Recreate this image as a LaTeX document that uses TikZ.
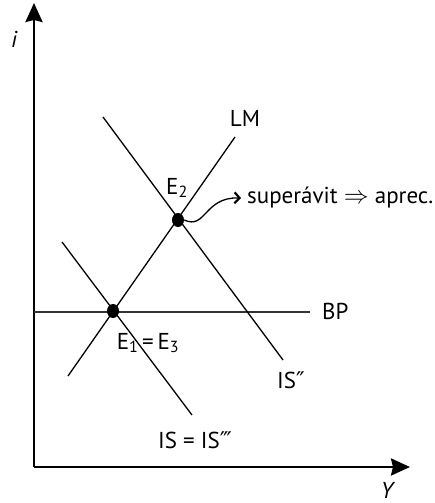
\documentclass[tikz,border=0pt]{standalone}
\usepackage{fontspec}
\setmainfont{PT Sans}
\newfontfamily\dv{DejaVu Sans}
\usetikzlibrary{arrows.meta,shapes.geometric}
\tikzset{
  axis/.style={line width=2.6pt, -{Stealth[length=19pt,width=17pt,inset=2pt]}},
  curve/.style={line width=1.3pt},
  bpline/.style={line width=1.5pt, black!80},
  lab/.style={inner sep=0pt, font=\fontsize{23}{27}\selectfont},
  itlab/.style={inner sep=0pt, font=\fontsize{23}{27}\selectfont\itshape},
  eqdot/.style={ellipse, fill=black, minimum width=12pt, minimum height=14pt, inner sep=0pt},
}
\begin{document}
\begin{tikzpicture}[x=1pt,y=-1pt]
\useasboundingbox (0,0) rectangle (435,503);
% axes
\coordinate (O) at (34,467);
\coordinate (ytop) at (34,3);
\coordinate (xend) at (410,467);
\draw[axis] (O) -- (ytop);
\draw[axis] (O) -- (xend);
\node[itlab] (ilab) at (14,39) {i};
\node[itlab] (Ylab) at (387,490) {Y};
% BP
\coordinate (bp0) at (34,312);
\coordinate (bp1) at (310,312);
\draw[bpline] (bp0) -- (bp1);
\node[lab, anchor=west] (bplab) at (322,311) {BP};
% LM
\coordinate (lm0) at (68,376);
\coordinate (lm1) at (235,137);
\draw[curve] (lm0) -- (lm1);
\node[lab] (lmlab) at (245,118) {LM};
% IS''
\coordinate (isb0) at (103,117);
\coordinate (isb1) at (283,360);
\draw[curve] (isb0) -- (isb1);
\node[lab, anchor=west] (isblab) at (277,380) {IS{\dv″}};
% IS = IS'''
\coordinate (isa0) at (62,242);
\coordinate (isa1) at (192,415);
\draw[curve] (isa0) -- (isa1);
\node[lab] (isalab) at (195,440) {IS = IS{\dv‴}};
% equilibria
\node[eqdot] (E1) at (113,311) {};
\node[eqdot] (E2) at (178,220) {};
\node[lab] (e2lab) at (177,188) {E\textsubscript{2}};
\node[lab] (e13lab) at (148,343) {E\textsubscript{1}\,=\,E\textsubscript{3}};
% note
\node[lab, anchor=west] (note) at (247,198) {superávit $\Rightarrow$ aprec.};
\coordinate (tip) at ([xshift=-6pt]note.west);
\draw[line width=1.3pt, -{Straight Barb[length=5pt,width=11pt,line width=2.2pt]}] (E2.east) .. controls (206,230) and (204,197) .. (tip);
\end{tikzpicture}
\end{document}
